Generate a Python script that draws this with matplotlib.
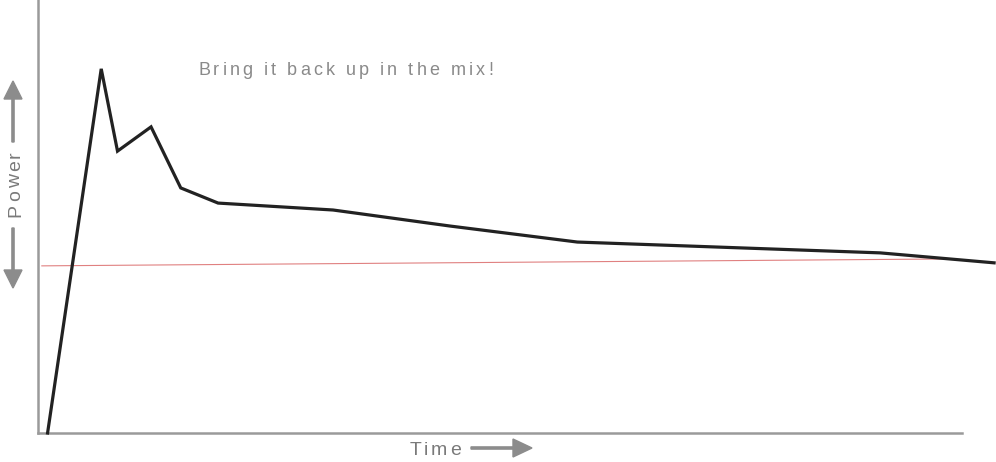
import matplotlib
matplotlib.use("Agg")
import matplotlib.pyplot as plt
from matplotlib.font_manager import FontProperties, findfont, get_font
from matplotlib.patches import FancyArrow
from matplotlib.transforms import IdentityTransform

# Power curve over time (both axes on a 0-100 scale)
time_vals = [1.0, 6.6, 8.3, 11.8, 14.9, 18.8, 30.8, 43.0, 56.3, 87.9, 90.5, 99.8]
power_vals = [0.0, 84.1, 65.1, 70.7, 56.6, 53.1, 51.5, 47.8, 44.1, 41.6, 41.1, 39.3]

# Faint red reference line
ref_time = [0.4, 95.2]
ref_power = [38.6, 40.2]

annotation = "Bring it back up in the mix!"
x_label = "Time"
y_label = "Power"

W, H = 996, 462
FAMILY = "Liberation Sans"
px = IdentityTransform()

fig = plt.figure(figsize=(W / 100, H / 100), dpi=100)


def spaced_text(s, cx, cy, size, spacing, color, vertical=False):
    """Draw s with extra letter spacing, centred on (cx, cy) on the baseline, in pixels."""
    font = get_font(findfont(FontProperties(family=FAMILY)))
    font.set_size(size, 100)
    adv = [font.load_char(ord(c)).linearHoriAdvance / 65536 for c in s]
    total = sum(adv) + spacing * (len(s) - 1)
    pos = -total / 2
    for c, a in zip(s, adv):
        if vertical:
            xy = (cx, cy + pos)
        else:
            xy = (cx + pos, cy)
        fig.text(*xy, c, fontsize=size, color=color, family=FAMILY,
                 rotation=90 if vertical else 0, rotation_mode="anchor",
                 ha="left", va="baseline", transform=px)
        pos += a + spacing


ax = fig.add_axes([38 / W, (H - 433) / H, (W - 38) / W, 433 / H])
ax.set_xlim(0, 100)
ax.set_ylim(0, 100)

ax.plot(ref_time, ref_power, color="#e08080", linewidth=0.8, zorder=2)
ax.plot(time_vals, power_vals, color="#222222", linewidth=2.3,
        solid_joinstyle="miter", clip_on=False, zorder=3)

for side in ("top", "right"):
    ax.spines[side].set_visible(False)
for side in ("left", "bottom"):
    ax.spines[side].set_color("#9a9a9a")
    ax.spines[side].set_linewidth(1.8)
ax.spines["bottom"].set_bounds(0, 96.5)
ax.set_xticks([])
ax.set_yticks([])

# annotation and axis labels, placed in pixel coordinates
spaced_text(annotation, 345.5, H - 75, 13, 3.1, "#8a8a8a")
spaced_text(x_label, 435, H - 455, 14, 2.6, "#7a7a7a")
spaced_text(y_label, 20, H - 184, 14, 2.6, "#7a7a7a", vertical=True)

grey = "#8c8c8c"
fig.add_artist(FancyArrow(471, H - 448, 61, 0, width=2.2, head_width=18,
                          head_length=19, length_includes_head=True,
                          color=grey, transform=px))
fig.add_artist(FancyArrow(13, H - 142, 0, 61, width=2.2, head_width=18,
                          head_length=18, length_includes_head=True,
                          color=grey, transform=px))
fig.add_artist(FancyArrow(13, H - 228, 0, -60, width=2.2, head_width=18,
                          head_length=18, length_includes_head=True,
                          color=grey, transform=px))

fig.savefig("out.png", dpi=100)
